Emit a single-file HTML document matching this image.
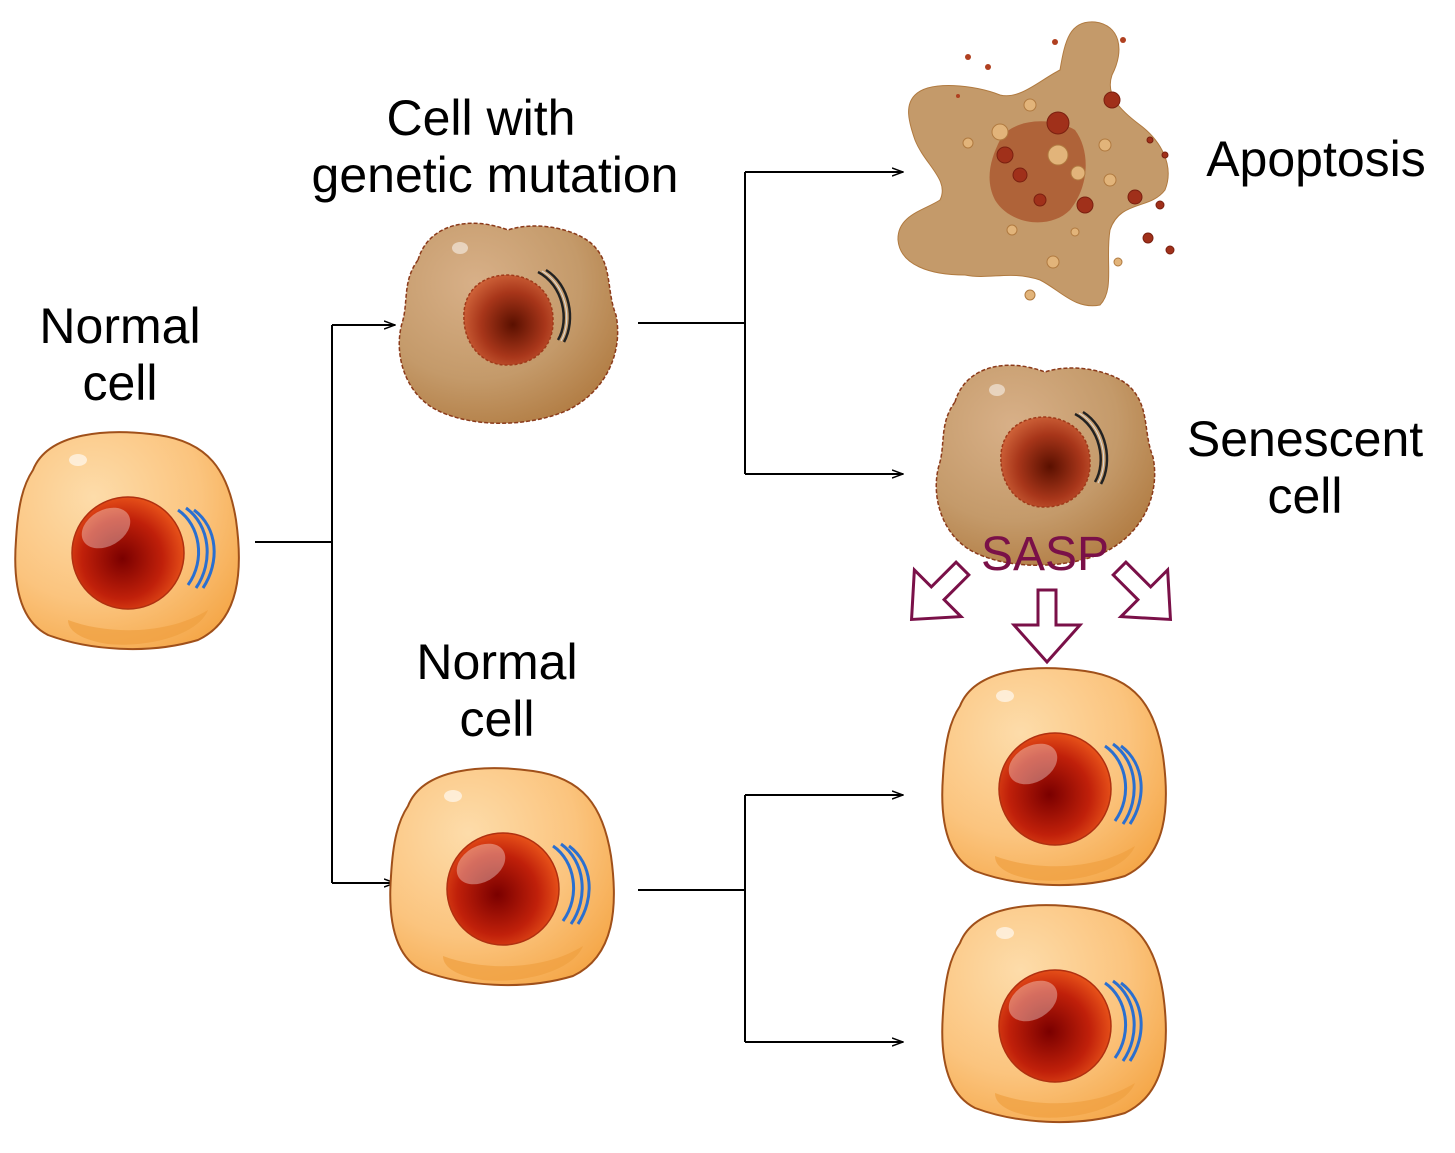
<!DOCTYPE html>
<html><head><meta charset="utf-8"><style>
html,body{margin:0;padding:0;background:#fff;}
svg{display:block;}
text{font-family:"Liberation Sans",Arial,sans-serif;fill:#000;}
</style></head><body>
<svg width="1455" height="1153" viewBox="0 0 1455 1153">
<defs>
  <radialGradient id="nucN" cx="0.45" cy="0.55" r="0.6">
    <stop offset="0" stop-color="#7a0000"/><stop offset="0.6" stop-color="#c0200a"/><stop offset="1" stop-color="#ee5a1c"/>
  </radialGradient>
  <radialGradient id="nucM" cx="0.55" cy="0.55" r="0.6">
    <stop offset="0" stop-color="#5a1000"/><stop offset="0.6" stop-color="#a8361a"/><stop offset="1" stop-color="#d0643a"/>
  </radialGradient>
  <radialGradient id="bodyN" cx="0.35" cy="0.3" r="0.8">
    <stop offset="0" stop-color="#fddcaa"/><stop offset="0.6" stop-color="#fbc47e"/><stop offset="1" stop-color="#f5a84a"/>
  </radialGradient>
  <radialGradient id="bodyM" cx="0.35" cy="0.3" r="0.8">
    <stop offset="0" stop-color="#d8b088"/><stop offset="0.6" stop-color="#c49a6a"/><stop offset="1" stop-color="#b07a40"/>
  </radialGradient>
  <g id="normalCell">
    <path d="M-95,-70 C-80,-108 -20,-112 30,-105 C80,-98 100,-70 108,-20 C115,30 112,80 70,100 C20,115 -40,110 -80,95 C-110,80 -115,40 -112,0 C-110,-35 -105,-55 -95,-70 Z" fill="url(#bodyN)" stroke="#a0501a" stroke-width="2"/>
    <path d="M-60,80 C-20,95 40,95 80,70 C70,95 20,108 -20,104 C-45,100 -60,92 -60,80 Z" fill="#f0a040" opacity="0.7"/>
    <ellipse cx="-50" cy="-80" rx="9" ry="6" fill="#fff" opacity="0.6"/>
    <circle cx="0" cy="13" r="56" fill="url(#nucN)" stroke="#b03010" stroke-width="1.5"/>
    <ellipse cx="-22" cy="-12" rx="26" ry="18" fill="#fff" opacity="0.35" transform="rotate(-30 -22 -12)"/>
    <g fill="none" stroke="#2a6fd0" stroke-width="3">
      <path d="M50,-30 C72,-15 78,20 60,45"/>
      <path d="M58,-32 C82,-15 86,22 68,48"/>
      <path d="M66,-30 C90,-12 92,22 75,48"/>
    </g>
  </g>
  <g id="mutCell">
    <path d="M-90,-60 C-80,-95 -40,-105 0,-90 C30,-100 70,-90 85,-75 C105,-55 98,-30 108,-5 C115,30 100,70 60,90 C20,108 -40,108 -75,88 C-105,70 -115,30 -105,0 C-100,-20 -105,-40 -90,-60 Z" fill="url(#bodyM)" stroke="#8b3a1a" stroke-width="1.5" stroke-dasharray="4 2"/>
    <ellipse cx="-48" cy="-72" rx="8" ry="6" fill="#fff" opacity="0.5"/>
    <path d="M-44,0 C-46,-30 -25,-45 0,-45 C25,-44 45,-28 45,0 C46,28 25,45 0,45 C-25,46 -43,25 -44,0 Z" fill="url(#nucM)" stroke="#a03a1a" stroke-width="1.5" stroke-dasharray="3 2"/>
    <g fill="none" stroke="#222" stroke-width="2.5">
      <path d="M30,-48 C55,-35 62,0 50,20"/>
      <path d="M38,-50 C62,-35 68,0 56,22"/>
    </g>
    <g fill="none" stroke="#ddd" stroke-width="1"><path d="M34,-49 C58,-35 65,0 53,21"/></g>
  </g>
  <path id="saspArrow" d="M-9,-36 H9 V-1 H33 L0,36 L-33,-1 H-9 Z"/>
  <marker id="ah" markerWidth="12" markerHeight="10" refX="11" refY="5" orient="auto" markerUnits="userSpaceOnUse">
    <path d="M0,1 L11,5 L0,9" fill="none" stroke="#000" stroke-width="1.5"/>
  </marker>
</defs>

<g fill="none" stroke="#000" stroke-width="2">
  <path d="M255,542 H332 M332,325 V883"/>
  <path d="M332,325 H395" marker-end="url(#ah)"/>
  <path d="M332,883 H395" marker-end="url(#ah)"/>
  <path d="M638,323 H745 M745,172 V474"/>
  <path d="M745,172 H903" marker-end="url(#ah)"/>
  <path d="M745,474 H903" marker-end="url(#ah)"/>
  <path d="M638,890 H745 M745,795 V1042"/>
  <path d="M745,795 H903" marker-end="url(#ah)"/>
  <path d="M745,1042 H903" marker-end="url(#ah)"/>
</g>

<use href="#normalCell" transform="translate(128,540)"/>
<use href="#mutCell" transform="translate(508,320)"/>
<use href="#normalCell" transform="translate(503,876)"/>
<use href="#mutCell" transform="translate(1045,462)"/>
<use href="#normalCell" transform="translate(1055,776)"/>
<use href="#normalCell" transform="translate(1055,1013)"/>

<g>
  <path d="M915,95 C930,80 975,85 1000,95 C1020,100 1040,80 1060,70 C1065,40 1070,20 1095,22 C1120,25 1125,50 1112,75 C1105,95 1120,110 1140,125 C1160,140 1175,165 1165,190 C1150,210 1120,200 1110,230 C1105,260 1115,290 1100,305 C1075,310 1060,290 1040,280 C1010,270 990,280 965,275 C930,275 900,265 898,240 C897,215 925,210 940,200 C950,180 925,165 915,140 C908,120 905,105 915,95 Z" fill="#c49a6a" stroke="#b07a40" stroke-width="1"/>
  <path d="M1000,140 C1010,120 1050,115 1075,130 C1090,150 1090,185 1070,210 C1050,230 1010,225 995,200 C985,180 990,160 1000,140 Z" fill="#a8502a" opacity="0.75"/>
  <g fill="#a0301a" stroke="#7a2010" stroke-width="1">
    <circle cx="1112" cy="100" r="8"/><circle cx="1058" cy="123" r="11"/><circle cx="1135" cy="197" r="7"/>
    <circle cx="1005" cy="155" r="8"/><circle cx="1085" cy="205" r="8"/><circle cx="1170" cy="250" r="4"/>
    <circle cx="1148" cy="238" r="5"/><circle cx="1020" cy="175" r="7"/><circle cx="1160" cy="205" r="4"/>
    <circle cx="1165" cy="155" r="3"/><circle cx="1150" cy="140" r="3"/><circle cx="1040" cy="200" r="6"/>
  </g>
  <g fill="#e2b47a" stroke="#b07a40" stroke-width="1">
    <circle cx="1058" cy="155" r="10"/><circle cx="1000" cy="132" r="8"/><circle cx="1030" cy="105" r="6"/>
    <circle cx="1078" cy="173" r="7"/><circle cx="1110" cy="180" r="6"/><circle cx="1053" cy="262" r="6"/>
    <circle cx="1030" cy="295" r="5"/><circle cx="1105" cy="145" r="6"/><circle cx="968" cy="143" r="5"/>
    <circle cx="1012" cy="230" r="5"/><circle cx="1075" cy="232" r="4"/><circle cx="1118" cy="262" r="4"/>
  </g>
  <g fill="#b04020"><circle cx="968" cy="57" r="3"/><circle cx="988" cy="67" r="3"/><circle cx="1055" cy="42" r="3"/><circle cx="1123" cy="40" r="3"/><circle cx="958" cy="96" r="2"/></g>
</g>

<g fill="#fff" stroke="#7a1048" stroke-width="3">
  <use href="#saspArrow" transform="translate(1047,626)"/>
  <use href="#saspArrow" transform="translate(937,594) rotate(45)"/>
  <use href="#saspArrow" transform="translate(1145,594) rotate(-45)"/>
</g>
<text x="1045" y="570" text-anchor="middle" font-size="48" style="fill:#7a1048">SASP</text>

<g font-size="50" text-anchor="middle">
  <text x="120" y="343">Normal</text>
  <text x="120" y="400">cell</text>
  <text x="481" y="135">Cell with</text>
  <text x="495" y="192">genetic mutation</text>
  <text x="497" y="679">Normal</text>
  <text x="497" y="736">cell</text>
  <text x="1316" y="176">Apoptosis</text>
  <text x="1305" y="456">Senescent</text>
  <text x="1305" y="513">cell</text>
</g>
</svg>
</body></html>
